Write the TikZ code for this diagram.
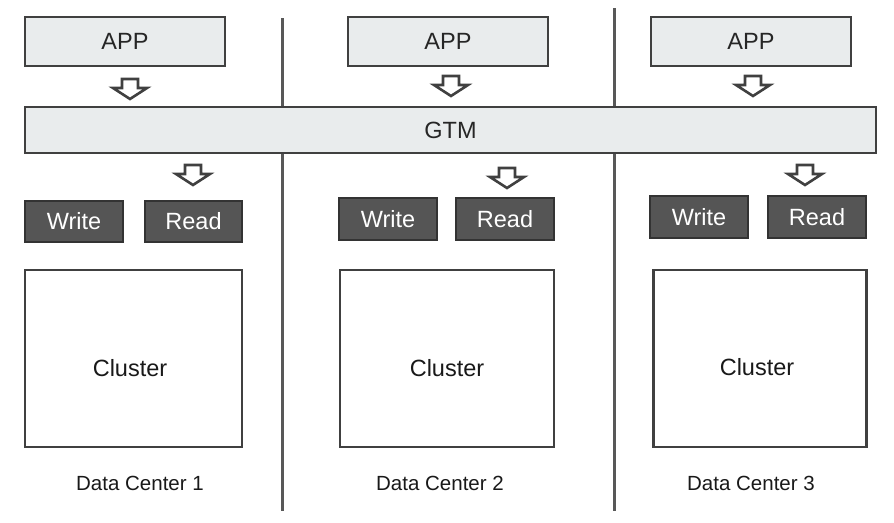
\documentclass[tikz,border=0pt]{standalone}
\usepackage{fontspec}
\setmainfont{Liberation Sans}
\begin{document}
\begin{tikzpicture}[x=1pt,y=-1pt,
  lightbox/.style={draw=boxline,fill=boxfill,line width=2.3pt,inner sep=0pt,
    font=\fontsize{23.5}{28}\selectfont,text=black!85},
  opbox/.style={draw=opline,fill=opfill,line width=2.2pt,inner sep=0pt,
    font=\fontsize{23.5}{28}\selectfont,text=white},
  clusterbox/.style={draw=boxline,fill=white,line width=2.6pt,inner sep=0pt},
  clustertext/.style={font=\fontsize{23.5}{28}\selectfont,inner sep=0pt,text=black!90},
  dclabel/.style={font=\fontsize{20.5}{24}\selectfont,inner sep=0pt,text=black!90},
  divider/.style={draw=divline,line width=3pt},
  hollowdown/.pic={
    \draw[draw=boxline,fill=white,line width=2.6pt,line join=miter]
      (-8,0) -- (8,0) -- (8,9) -- (17,9) -- (0,20) -- (-17,9) -- (-8,9) -- cycle;
  }]
\definecolor{boxfill}{HTML}{E9ECED}
\definecolor{boxline}{HTML}{404040}
\definecolor{opfill}{HTML}{555555}
\definecolor{opline}{HTML}{333333}
\definecolor{divline}{HTML}{585858}

\useasboundingbox (0,0) rectangle (894,522);

% separators between the data centres
\coordinate (d1t) at (282,18);  \coordinate (d1b) at (282,511);
\coordinate (d2t) at (614,8);   \coordinate (d2b) at (614,511);
\draw[divider] (d1t) -- (d1b);
\draw[divider] (d2t) -- (d2b);

% application layer
\node[lightbox,minimum width=200pt,minimum height=49pt] (app1) at (125,41.5) {APP};
\node[lightbox,minimum width=200pt,minimum height=49pt] (app2) at (448,41.5) {APP};
\node[lightbox,minimum width=200pt,minimum height=49pt] (app3) at (751,41.5) {APP};

% global transaction manager
\node[lightbox,minimum width=851pt,minimum height=46pt] (gtm) at (450.5,130) {GTM};

% write / read paths
\node[opbox,minimum width=98pt,minimum height=41pt] (w1) at (74,221.5) {Write};
\node[opbox,minimum width=97pt,minimum height=41pt] (r1) at (193.5,221.5) {Read};
\node[opbox,minimum width=98pt,minimum height=42pt] (w2) at (388,219) {Write};
\node[opbox,minimum width=98pt,minimum height=42pt] (r2) at (505,219) {Read};
\node[opbox,minimum width=98pt,minimum height=42pt] (w3) at (699,217) {Write};
\node[opbox,minimum width=98pt,minimum height=42pt] (r3) at (817,217) {Read};

% clusters
\node[clusterbox,minimum width=217pt,minimum height=177pt] (c1) at (133.5,358.5) {};
\node[clusterbox,minimum width=214pt,minimum height=177pt] (c2) at (447,358.5) {};
\node[clusterbox,minimum width=213pt,minimum height=177pt] (c3) at (760,358.5) {};
\node[clustertext] (c1t) at (130,368) {Cluster};
\node[clustertext] (c2t) at (447,368) {Cluster};
\node[clustertext] (c3t) at (757,367) {Cluster};

% data centre captions
\node[dclabel] (dc1) at (140,483) {Data Center 1};
\node[dclabel] (dc2) at (440,483) {Data Center 2};
\node[dclabel] (dc3) at (751,483) {Data Center 3};

% flow arrows
\pic at (130,79) {hollowdown};
\pic at (451,76) {hollowdown};
\pic at (753,76) {hollowdown};
\pic at (193,165) {hollowdown};
\pic at (507,168) {hollowdown};
\pic at (805,165) {hollowdown};
\end{tikzpicture}
\end{document}
